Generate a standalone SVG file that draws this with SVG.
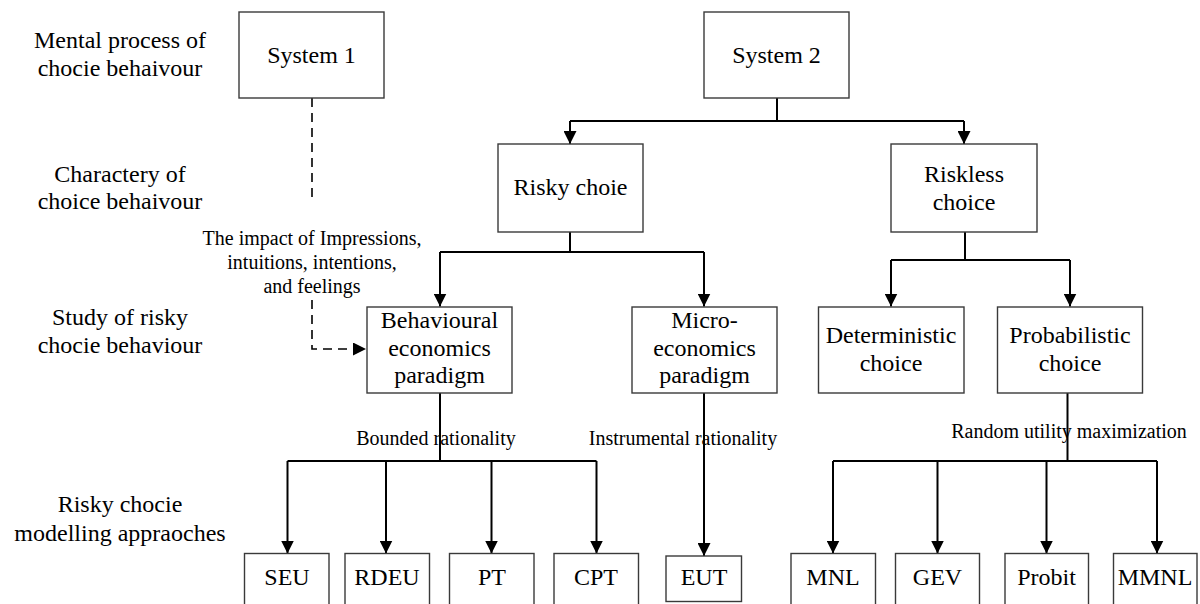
<svg xmlns="http://www.w3.org/2000/svg" width="1200" height="604" viewBox="0 0 1200 604">
<defs>
<style>
text{font-family:"Liberation Serif","Times New Roman",serif;fill:#000;text-anchor:middle}
.n{font-size:24px}
.s{font-size:20px}
.box{fill:#fff;stroke:#3a3a3a;stroke-width:1.4}
.c{fill:none;stroke:#000;stroke-width:2}
.d{fill:none;stroke:#000;stroke-width:1.6;stroke-dasharray:9 6}
</style>
<marker id="ah" markerUnits="userSpaceOnUse" markerWidth="14" markerHeight="13" refX="13" refY="6.5" orient="auto">
<path d="M0,0 L13,6.5 L0,13 z" fill="#000"/>
</marker>
</defs>
<rect width="1200" height="604" fill="#fff"/>

<g id="row-labels">
<text class="n" x="120" y="48">Mental process of</text>
<text class="n" x="120" y="76">chocie behaivour</text>
<text class="n" x="120" y="182">Charactery of</text>
<text class="n" x="120" y="209">choice behaivour</text>
<text class="n" x="120" y="325">Study of risky</text>
<text class="n" x="120" y="353">chocie behaviour</text>
<text class="n" x="120" y="512">Risky chocie</text>
<text class="n" x="120" y="541">modelling appraoches</text>
</g>

<g id="connectors">
<path class="d" d="M312,98 V197"/>
<path class="d" d="M312,300 V349 H366" marker-end="url(#ah)"/>
<path class="c" d="M777,98 V121"/>
<path class="c" d="M570,121 H964"/>
<path class="c" d="M570,121 V144" marker-end="url(#ah)"/>
<path class="c" d="M964,121 V144" marker-end="url(#ah)"/>
<path class="c" d="M570,232 V252"/>
<path class="c" d="M440,252 H704"/>
<path class="c" d="M440,252 V306.5" marker-end="url(#ah)"/>
<path class="c" d="M704,252 V306.5" marker-end="url(#ah)"/>
<path class="c" d="M965,232 V260"/>
<path class="c" d="M891,260 H1070"/>
<path class="c" d="M891,260 V306.5" marker-end="url(#ah)"/>
<path class="c" d="M1070,260 V306.5" marker-end="url(#ah)"/>
<path class="c" d="M440,393 V461"/>
<path class="c" d="M287.5,461 H596.5"/>
<path class="c" d="M287.5,461 V553.5" marker-end="url(#ah)"/>
<path class="c" d="M386,461 V553.5" marker-end="url(#ah)"/>
<path class="c" d="M491.5,461 V553.5" marker-end="url(#ah)"/>
<path class="c" d="M596.5,461 V553.5" marker-end="url(#ah)"/>
<path class="c" d="M704,393 V556" marker-end="url(#ah)"/>
<path class="c" d="M1067.5,393 V461"/>
<path class="c" d="M833,461 H1157"/>
<path class="c" d="M833,461 V553.5" marker-end="url(#ah)"/>
<path class="c" d="M937.5,461 V553.5" marker-end="url(#ah)"/>
<path class="c" d="M1046.5,461 V553.5" marker-end="url(#ah)"/>
<path class="c" d="M1157,461 V553.5" marker-end="url(#ah)"/>
</g>

<g id="edge-labels">
<text class="s" x="312" y="245">The impact of Impressions,</text>
<text class="s" x="312" y="269">intuitions, intentions,</text>
<text class="s" x="312" y="293">and feelings</text>
<text class="s" x="436" y="445">Bounded rationality</text>
<text class="s" x="683" y="445">Instrumental rationality</text>
<text class="s" x="1069" y="438">Random utility maximization</text>
</g>

<g id="system1"><rect class="box" x="239" y="12" width="145" height="86"/><text class="n" x="311.5" y="63">System 1</text></g>
<g id="system2"><rect class="box" x="704" y="12" width="145" height="86"/><text class="n" x="776.5" y="63">System 2</text></g>
<g id="risky"><rect class="box" x="498" y="144" width="145" height="88"/><text class="n" x="570.5" y="195">Risky choie</text></g>
<g id="riskless"><rect class="box" x="891" y="144" width="146" height="88"/><text class="n" x="964" y="182">Riskless</text><text class="n" x="964" y="210">choice</text></g>
<g id="behavioural"><rect class="box" x="367" y="307" width="145" height="86"/><text class="n" x="439.5" y="328">Behavioural</text><text class="n" x="439.5" y="356">economics</text><text class="n" x="439.5" y="383">paradigm</text></g>
<g id="micro"><rect class="box" x="632" y="307" width="145" height="86"/><text class="n" x="704.5" y="328">Micro-</text><text class="n" x="704.5" y="356">economics</text><text class="n" x="704.5" y="383">paradigm</text></g>
<g id="deterministic"><rect class="box" x="818.5" y="307" width="145.5" height="86"/><text class="n" x="891" y="343">Deterministic</text><text class="n" x="891" y="371">choice</text></g>
<g id="probabilistic"><rect class="box" x="997.5" y="307" width="145" height="86"/><text class="n" x="1070" y="343">Probabilistic</text><text class="n" x="1070" y="371">choice</text></g>

<g id="seu"><rect class="box" x="244.5" y="553.5" width="84.5" height="55"/><text class="n" x="287" y="585">SEU</text></g>
<g id="rdeu"><rect class="box" x="345" y="553.5" width="84.5" height="55"/><text class="n" x="387" y="585">RDEU</text></g>
<g id="pt"><rect class="box" x="449.5" y="553.5" width="84.5" height="55"/><text class="n" x="492" y="585">PT</text></g>
<g id="cpt"><rect class="box" x="554" y="553.5" width="84.5" height="55"/><text class="n" x="596" y="585">CPT</text></g>
<g id="eut"><rect class="box" x="666" y="556" width="75.5" height="45.5"/><text class="n" x="704" y="585">EUT</text></g>
<g id="mnl"><rect class="box" x="791" y="553.5" width="84.5" height="55"/><text class="n" x="833" y="585">MNL</text></g>
<g id="gev"><rect class="box" x="895.5" y="553.5" width="84" height="55"/><text class="n" x="937.5" y="585">GEV</text></g>
<g id="probit"><rect class="box" x="1005" y="553.5" width="83.5" height="55"/><text class="n" x="1046.5" y="585">Probit</text></g>
<g id="mmnl"><rect class="box" x="1113.5" y="553.5" width="83.5" height="55"/><text class="n" x="1155" y="585">MMNL</text></g>
</svg>
